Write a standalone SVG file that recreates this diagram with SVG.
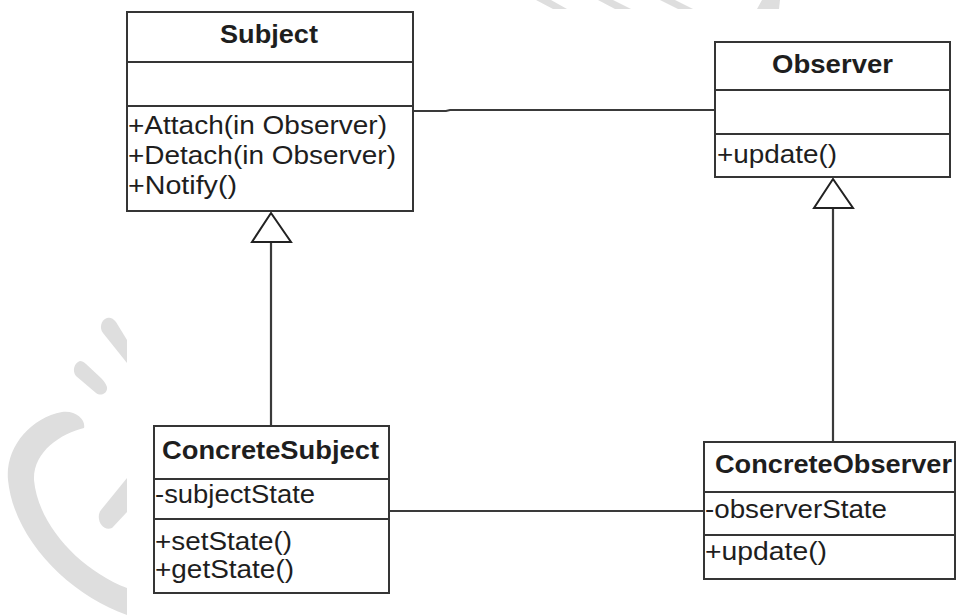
<svg xmlns="http://www.w3.org/2000/svg" width="957" height="615" viewBox="0 0 957 615">
  <style>
    .box { fill: #ffffff; stroke: #353535; stroke-width: 2; }
    .sep { stroke: #353535; stroke-width: 2; }
    .title { font-family: "Liberation Sans", Arial, sans-serif; font-size: 25px; font-weight: bold; fill: #1e1e1e; }
    .member { font-family: "Liberation Sans", Arial, sans-serif; font-size: 25px; fill: #1e1e1e; }
    .link { fill: none; stroke: #3a3a3a; stroke-width: 2.2; }
    .gen { fill: #ffffff; stroke: #222222; stroke-width: 2; stroke-linejoin: miter; }
    .mark { fill: #dedede; }
  </style>
  <rect x="0" y="0" width="957" height="615" fill="#ffffff"/>

  <!-- light background logo -->
  <g id="background-logo">
    <path class="mark" d="M536,0 L551,0 L567,9 L553,9 Z"/>
    <path class="mark" d="M598,0 L613,0 L631,9 L615,9 Z"/>
    <path class="mark" d="M660,0 L675,0 L693,9 L678,9 Z"/>
    <path class="mark" d="M762,0 L780,0 L779,9 L757,9 Z"/>
    <path class="mark" d="M127,615 C70,595 14,540 8,480 C5,448 30,418 62,412 C76,410 86,420 84,428 C60,434 33,452 34,480 C38,525 80,570 127,588 Z"/>
    <path class="mark" d="M127,478 L101,510 C95,518 102,532 112,528 L127,512 Z"/>
    <path class="mark" d="M107,318 C101,320 99,328 103,333 L127,363 L127,340 L116,322 C113,318 110,317 107,318 Z"/>
    <path class="mark" d="M80,361 C74,363 72,371 76,376 L96,393 C101,397 108,393 107,387 C106,384 104,381 101,378 L86,364 C84,362 82,361 80,361 Z"/>
  </g>

  <!-- connectors -->
  <g id="connectors">
    <path class="link" d="M413,111 H446 L450,110 H715"/>
    <path class="link" d="M389,511 H704"/>
    <path class="link" d="M271,242 V426"/>
    <path class="gen" d="M271,213 L252,242 L291,242 Z"/>
    <path class="link" d="M833,208 V442"/>
    <path class="gen" d="M833,179 L814,208 L853,208 Z"/>
  </g>

  <g id="Subject">
    <rect class="box" x="127" y="12" width="286" height="199"/>
    <line class="sep" x1="127" y1="62" x2="413" y2="62"/>
    <line class="sep" x1="127" y1="106" x2="413" y2="106"/>
    <text class="title" x="220" y="43" textLength="98" lengthAdjust="spacingAndGlyphs">Subject</text>
    <text class="member" x="128" y="134" textLength="259" lengthAdjust="spacingAndGlyphs">+Attach(in Observer)</text>
    <text class="member" x="128" y="164" textLength="268" lengthAdjust="spacingAndGlyphs">+Detach(in Observer)</text>
    <text class="member" x="128" y="194" textLength="109" lengthAdjust="spacingAndGlyphs">+Notify()</text>
  </g>

  <g id="Observer">
    <rect class="box" x="715" y="42" width="235" height="135"/>
    <line class="sep" x1="715" y1="90" x2="950" y2="90"/>
    <line class="sep" x1="715" y1="134" x2="950" y2="134"/>
    <text class="title" x="772" y="73" textLength="121" lengthAdjust="spacingAndGlyphs">Observer</text>
    <text class="member" x="717" y="163" textLength="120" lengthAdjust="spacingAndGlyphs">+update()</text>
  </g>

  <g id="ConcreteSubject">
    <rect class="box" x="154" y="426" width="235" height="167"/>
    <line class="sep" x1="154" y1="479" x2="389" y2="479"/>
    <line class="sep" x1="154" y1="519" x2="389" y2="519"/>
    <text class="title" x="162" y="459" textLength="217" lengthAdjust="spacingAndGlyphs">ConcreteSubject</text>
    <text class="member" x="155" y="503" textLength="160" lengthAdjust="spacingAndGlyphs">-subjectState</text>
    <text class="member" x="155" y="550" textLength="137" lengthAdjust="spacingAndGlyphs">+setState()</text>
    <text class="member" x="155" y="578" textLength="139" lengthAdjust="spacingAndGlyphs">+getState()</text>
  </g>

  <g id="ConcreteObserver">
    <rect class="box" x="704" y="442" width="251" height="137"/>
    <line class="sep" x1="704" y1="492" x2="955" y2="492"/>
    <line class="sep" x1="704" y1="535" x2="955" y2="535"/>
    <text class="title" x="715" y="473" textLength="237" lengthAdjust="spacingAndGlyphs">ConcreteObserver</text>
    <text class="member" x="705" y="518" textLength="182" lengthAdjust="spacingAndGlyphs">-observerState</text>
    <text class="member" x="705" y="560" textLength="122" lengthAdjust="spacingAndGlyphs">+update()</text>
  </g>
</svg>
